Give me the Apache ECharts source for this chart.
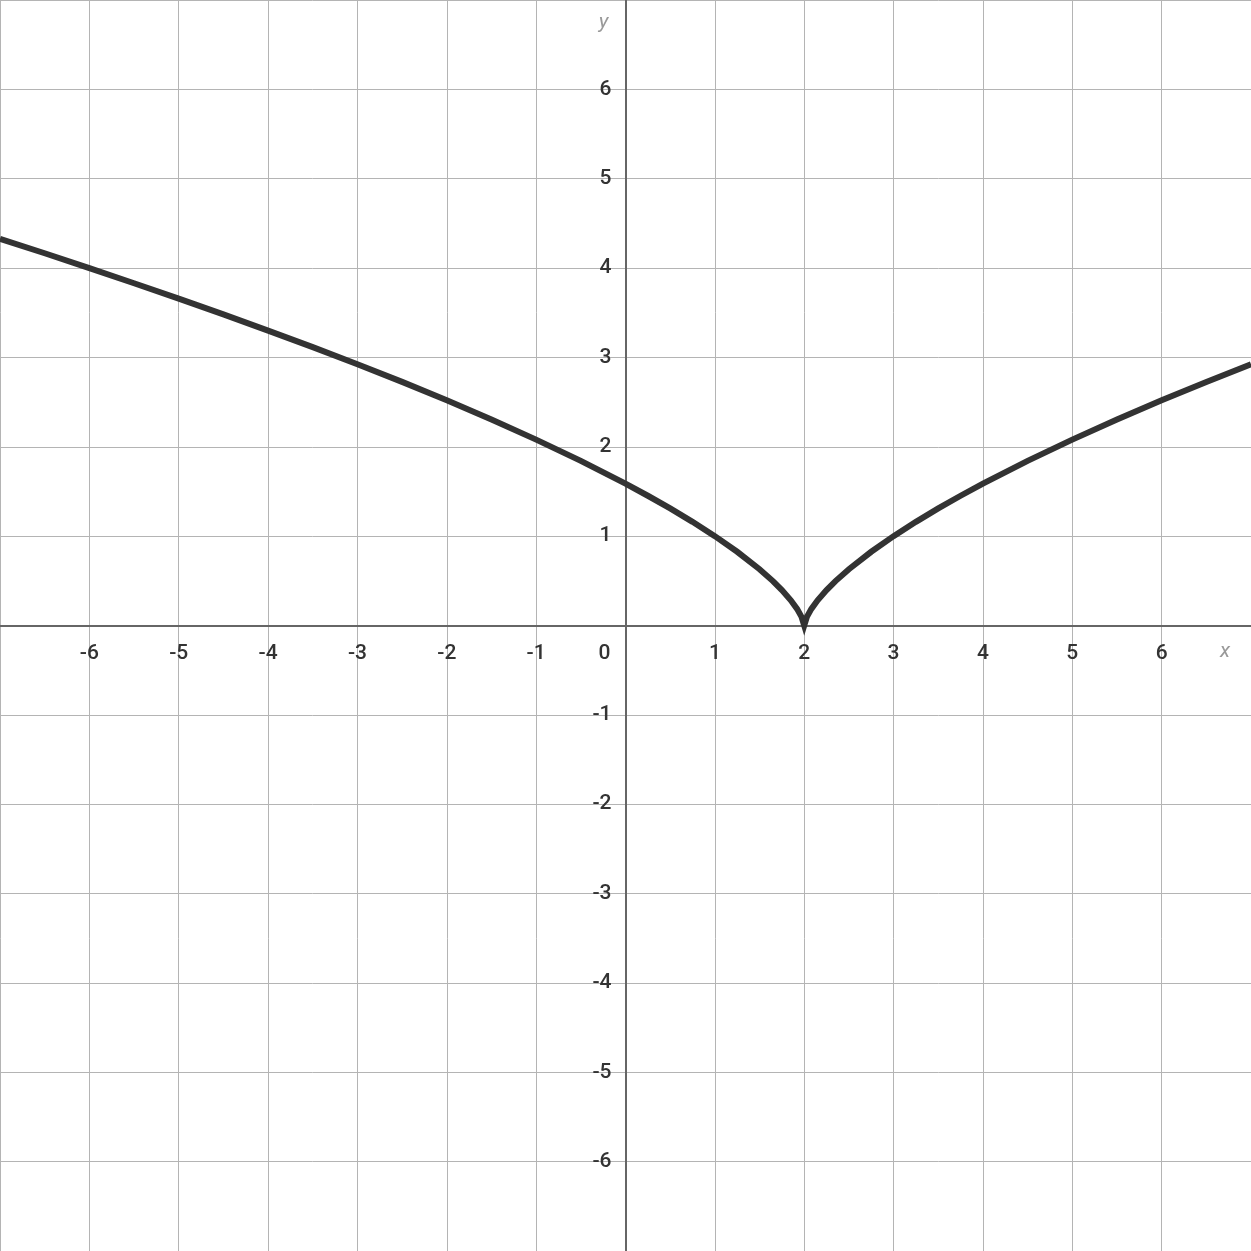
<!DOCTYPE html>
<html><head><meta charset="utf-8">
<script src="https://cdn.jsdelivr.net/npm/echarts@6/dist/echarts.min.js"></script>
<style>html,body{margin:0;padding:0;background:#fff}#c{width:1251px;height:1251px}</style>
</head><body><div id="c"></div>
<script>
var xValues = [-7,-6.5,-6,-5.5,-5,-4.5,-4,-3.5,-3,-2.5,-2,-1.5,-1,-0.5,0,0.25,0.5,0.75,1,1.25,1.5,1.65,1.75,1.85,1.92,1.97,2,2.03,2.08,2.15,2.25,2.35,2.5,2.75,3,3.25,3.5,3.75,4,4.5,5,5.5,6,6.5,7];
var yValues = [4.327,4.166,4.0,3.83,3.659,3.482,3.30,3.116,2.924,2.726,2.52,2.305,2.08,1.842,1.587,1.452,1.31,1.16,1.0,0.825,0.63,0.497,0.397,0.282,0.186,0.097,0,0.097,0.186,0.282,0.397,0.497,0.63,0.825,1.0,1.16,1.31,1.452,1.587,1.842,2.08,2.305,2.52,2.726,2.924];
var axisMin = -7, axisMax = 7, tickStep = 1;
var xName = 'x', yName = 'y';

var pts = xValues.map(function(x,i){return [x, yValues[i]];});
var font = 'Roboto, "Noto Sans", sans-serif';
var W = 1251, H = 1251;
var chart = echarts.init(document.getElementById('c'), null, {renderer:'canvas', width:W, height:H});
chart.setOption({
  animation:false,
  grid:{left:0,right:0,top:0,bottom:0,containLabel:false,outerBoundsMode:'none'},
  xAxis:{type:'value',min:axisMin,max:axisMax,interval:tickStep,position:'bottom',offset:-(H/2),
    axisLine:{onZero:false,lineStyle:{color:'#666',width:2}},
    axisTick:{show:false},
    splitLine:{show:true,lineStyle:{color:'#b4b4b4',width:1}},
    axisLabel:{margin:18,color:'#333',fontSize:21,fontWeight:500,fontFamily:font,hideOverlap:false,
      formatter:function(v){ if(v===0) return '{z|0}'; if(v===axisMin||v===axisMax) return ''; return String(v);},
      rich:{z:{padding:[0,42,0,0],color:'#333',fontSize:21,fontWeight:500,fontFamily:font}}},
    name:'{n|' + xName + '}',nameLocation:'end',nameGap:-26,
    nameTextStyle:{align:'center',verticalAlign:'middle',
      rich:{n:{color:'#999',fontSize:21,fontStyle:'italic',fontFamily:font,padding:[52,0,0,0]}}}
  },
  yAxis:{type:'value',min:axisMin,max:axisMax,interval:tickStep,position:'left',offset:-(W/2),
    axisLine:{onZero:false,lineStyle:{color:'#666',width:2}},
    axisTick:{show:false},
    splitLine:{show:true,lineStyle:{color:'#b4b4b4',width:1}},
    axisLabel:{margin:14,color:'#333',fontSize:21,fontWeight:500,fontFamily:font,hideOverlap:false,
      padding:[3,0,0,0],
      formatter:function(v){ if(v===0||v===axisMin||v===axisMax) return ''; return String(v);}},
    name:yName,nameLocation:'end',nameGap:-23,
    nameTextStyle:{color:'#999',fontSize:21,fontStyle:'italic',fontFamily:font,align:'center',verticalAlign:'middle',padding:[0,44,0,0]}
  },
  series:[{type:'line',data:pts,showSymbol:false,smooth:false,
    lineStyle:{color:'#333',width:6,join:'miter',cap:'butt'},z:5}]
});
</script></body></html>
